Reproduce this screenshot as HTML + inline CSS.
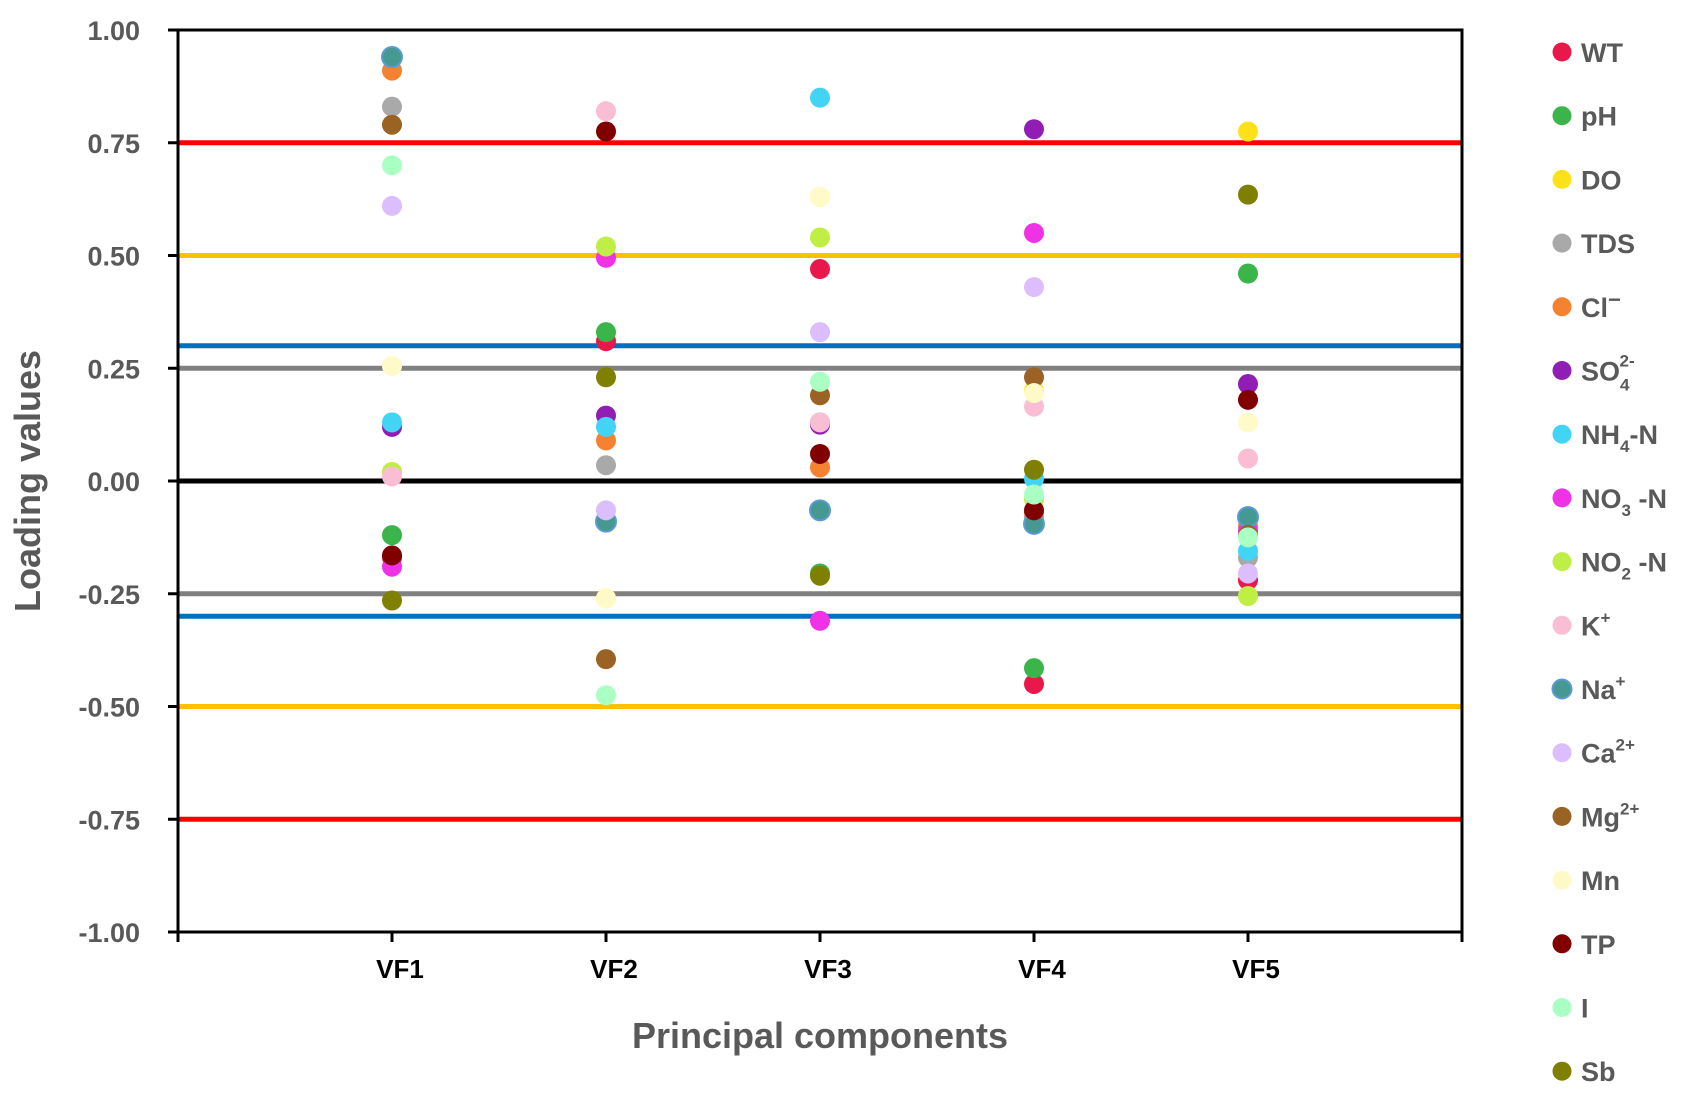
<!DOCTYPE html>
<html><head><meta charset="utf-8"><style>
body{margin:0;background:#fff;}
svg{display:block;font-family:"Liberation Sans",sans-serif;}
</style></head><body>
<svg id="chart" width="1691" height="1098" viewBox="0 0 1691 1098" xmlns="http://www.w3.org/2000/svg">
<g id="refs"></g>
<g id="axes"></g>
<g id="dots"></g>
<g id="legend"></g>
<text x="40" y="481" transform="rotate(-90 40 481)" text-anchor="middle" font-size="36" font-weight="bold" fill="#595959">Loading values</text>
<text x="820" y="1048" text-anchor="middle" font-size="36" font-weight="bold" fill="#595959">Principal components</text>
</svg>
<script>
const categories = ["VF1","VF2","VF3","VF4","VF5"];
const yTicks = [1.00,0.75,0.50,0.25,0.00,-0.25,-0.50,-0.75,-1.00];
const refValues = [0.75,-0.75,0.5,-0.5,0.3,-0.3,0.25,-0.25,0];
const refColors = ["#ff0000","#ff0000","#ffc000","#ffc000","#0070c0","#0070c0","#808080","#808080","#000000"];
const seriesNames = ["WT","pH","DO","TDS","Cl","SO4","NH4-N","NO3-N","NO2-N","K","Na","Ca","Mg","Mn","TP","I","Sb"];
const seriesColors = ["#e8194a","#3bb44a","#ffe119","#a9a9a9","#f58231","#911eb4","#42d4f4","#f032e6","#bfef45","#fabed4","#469990","#dcbeff","#9a6324","#fffac8","#800000","#aaffc3","#808000"];
const sWT  = [-0.17, 0.31, 0.47, -0.45, -0.22];
const sPH  = [-0.12, 0.33, -0.205, -0.415, 0.46];
const sDO  = [0.02, -0.26, 0.63, 0.2, 0.775];
const sTDS = [0.83, 0.035, 0.13, -0.08, -0.17];
const sCL  = [0.91, 0.09, 0.03, -0.07, -0.1];
const sSO4 = [0.12, 0.145, 0.125, 0.78, 0.215];
const sNH4 = [0.13, 0.12, 0.85, 0.005, -0.155];
const sNO3 = [-0.19, 0.495, -0.31, 0.55, -0.11];
const sNO2 = [0.02, 0.52, 0.54, -0.04, -0.255];
const sK   = [0.01, 0.82, 0.13, 0.165, 0.05];
const sNA  = [0.94, -0.09, -0.065, -0.095, -0.08];
const sCA  = [0.61, -0.065, 0.33, 0.43, -0.205];
const sMG  = [0.79, -0.395, 0.19, 0.23, -0.12];
const sMN  = [0.255, -0.26, 0.63, 0.195, 0.13];
const sTP  = [-0.165, 0.775, 0.06, -0.065, 0.18];
const sI   = [0.70, -0.475, 0.22, -0.03, -0.125];
const sSB  = [-0.265, 0.23, -0.21, 0.025, 0.635];
const seriesValues = [sWT,sPH,sDO,sTDS,sCL,sSO4,sNH4,sNO3,sNO2,sK,sNA,sCA,sMG,sMN,sTP,sI,sSB];

const NS="http://www.w3.org/2000/svg";
const L=178,R=1462,T=30,B=932;
const y=v=>T+(1-v)/2*(B-T);
const x=i=>L+(i+1)*(R-L)/6;
function mk(tag,attrs,parent){const e=document.createElementNS(NS,tag);for(const k in attrs)e.setAttribute(k,attrs[k]);parent.appendChild(e);return e;}
const refs=document.getElementById('refs'),axes=document.getElementById('axes'),dots=document.getElementById('dots'),leg=document.getElementById('legend');
refValues.forEach((v,i)=>{
  const l=mk('line',{x1:L,x2:R,y1:y(v),y2:y(v),stroke:refColors[i],'stroke-width':5},refs);
  
  
});
let a=mk('path',{d:`M${L},${T}H${R}V${B}H${L}Z`,fill:'none',stroke:'#000','stroke-width':3},axes);


yTicks.forEach(v=>{
  mk('line',{x1:L-10,x2:L,y1:y(v),y2:y(v),stroke:'#000','stroke-width':3},axes);
  const t=mk('text',{x:140,y:y(v)+10,'text-anchor':'end','font-size':27,'font-weight':'bold',fill:'#595959'},axes);
  t.textContent=v.toFixed(2);
  
  
});
for(let i=-1;i<=5;i++){mk('line',{x1:x(i),x2:x(i),y1:B,y2:B+10,stroke:'#000','stroke-width':3},axes);}
categories.forEach((c,i)=>{
  const t=mk('text',{x:x(i)+8,y:978,'text-anchor':'middle','font-size':26,'font-weight':'bold',fill:'#000'},axes);
  t.textContent=c;
  
  
});
seriesValues.forEach((arr,s)=>{
  arr.forEach((v,i)=>{
    const attrs={cx:x(i),cy:y(v),r:10,fill:seriesColors[s]};
    if(s===10){attrs.stroke='#5b9bd5';attrs['stroke-width']=2;}
    const c=mk('circle',attrs,dots);
    
    
  });
});
const legLabels=["WT","pH","DO","TDS","Cl<tspan dy='-10' font-size='22'>\u2212</tspan>","SO<tspan dy='10' font-size='17'>4</tspan><tspan dx='-10' dy='-24' font-size='17'>2-</tspan>","NH<tspan dy='8' font-size='17'>4</tspan><tspan dy='-8'>-N</tspan>","NO<tspan dy='8' font-size='17'>3</tspan><tspan dy='-8'> -N</tspan>","NO<tspan dy='8' font-size='17'>2</tspan><tspan dy='-8'> -N</tspan>","K<tspan dy='-12' font-size='17'>+</tspan>","Na<tspan dy='-12' font-size='17'>+</tspan>","Ca<tspan dy='-12' font-size='17'>2+</tspan>","Mg<tspan dy='-12' font-size='17'>2+</tspan>","Mn","TP","I","Sb"];
legLabels.forEach((lab,s)=>{
  const g=mk('g',{},leg);
  
  
  const yy=52+s*63.7;
  const c={cx:1562,cy:yy,r:9.5,fill:seriesColors[s]};
  if(s===10){c.stroke='#5b9bd5';c['stroke-width']=2;}
  mk('circle',c,g);
  const t=mk('text',{x:1581,y:yy+10,'font-size':27,'font-weight':'bold',fill:'#595959'},g);
  t.innerHTML=lab;
});
</script>
</body></html>
